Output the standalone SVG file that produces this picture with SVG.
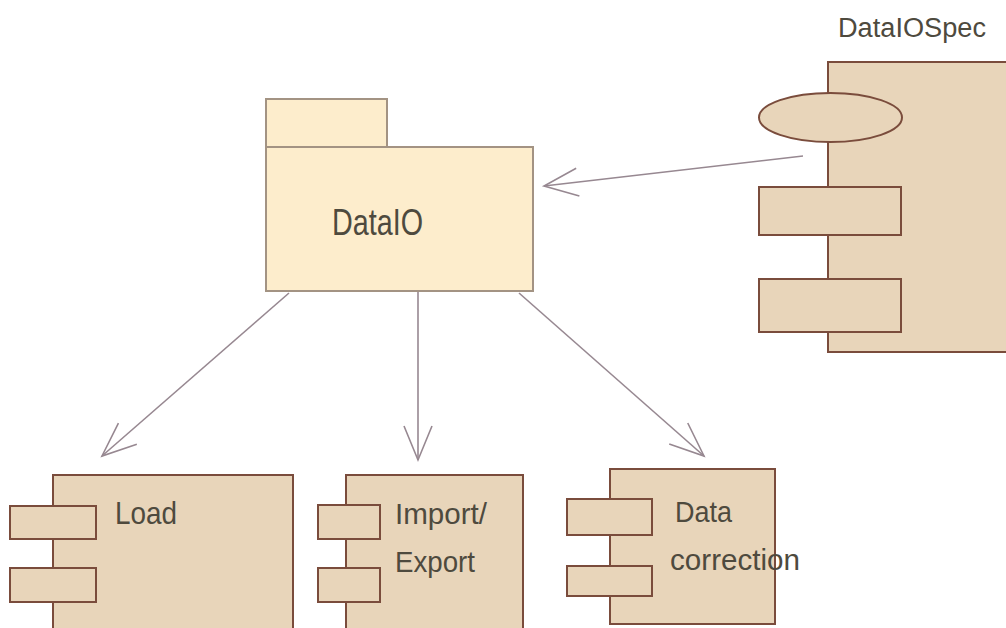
<svg xmlns="http://www.w3.org/2000/svg" width="1006" height="628" viewBox="0 0 1006 628">
<defs>
<style>
.pkg{fill:#fdedcc;stroke:#a39383;stroke-width:2}
.cmp{fill:#e8d5ba;stroke:#7a4c3c;stroke-width:2}
.lbl{font-family:"Liberation Sans",Arial,sans-serif;fill:#4e4a3e}
.conn{fill:none;stroke:#978891;stroke-width:1.6}
</style>
<marker id="open" markerUnits="userSpaceOnUse" markerWidth="50" markerHeight="50" viewBox="-45 -25 50 50" refX="0" refY="0" orient="auto">
<path d="M-34,-14 L0,0 L-34,14" fill="none" stroke="#978891" stroke-width="1.6"/>
</marker>
</defs>
<rect width="1006" height="628" fill="#ffffff"/>
<g id="connectors">
<line class="conn" x1="803" y1="156" x2="544" y2="186" marker-end="url(#open)"/>
<line class="conn" x1="289" y1="293" x2="102" y2="456" marker-end="url(#open)"/>
<line class="conn" x1="418" y1="291" x2="418" y2="460" marker-end="url(#open)"/>
<line class="conn" x1="519" y1="293" x2="704" y2="456" marker-end="url(#open)"/>
</g>
<g id="DataIO">
<rect class="pkg" x="266" y="99" width="121" height="48"/>
<rect class="pkg" x="266" y="147" width="267" height="144"/>
<text class="lbl" x="332" y="235" font-size="37" textLength="91" lengthAdjust="spacingAndGlyphs">DataIO</text>
</g>
<g id="DataIOSpec">
<text class="lbl" x="838" y="37" font-size="27" textLength="148" lengthAdjust="spacingAndGlyphs" fill="#555049">DataIOSpec</text>
<rect class="cmp" x="828" y="62" width="190" height="290"/>
<ellipse class="cmp" cx="830.5" cy="117.5" rx="71.5" ry="24.5"/>
<rect class="cmp" x="759" y="187" width="142" height="48"/>
<rect class="cmp" x="759" y="279" width="142" height="53"/>
</g>
<g id="Load">
<rect class="cmp" x="53" y="475" width="240" height="170"/>
<rect class="cmp" x="10" y="506" width="86" height="33"/>
<rect class="cmp" x="10" y="568" width="86" height="34"/>
<text class="lbl" x="115" y="524" font-size="32" textLength="62" lengthAdjust="spacingAndGlyphs">Load</text>
</g>
<g id="ImportExport">
<rect class="cmp" x="346" y="475" width="177" height="170"/>
<rect class="cmp" x="318" y="505" width="62" height="34"/>
<rect class="cmp" x="318" y="568" width="62" height="34"/>
<text class="lbl" x="395" y="524" font-size="30" textLength="92" lengthAdjust="spacingAndGlyphs">Import/</text>
<text class="lbl" x="395" y="572" font-size="30" textLength="80" lengthAdjust="spacingAndGlyphs">Export</text>
</g>
<g id="DataCorrection">
<rect class="cmp" x="610" y="469" width="165" height="155"/>
<rect class="cmp" x="567" y="499" width="85" height="36"/>
<rect class="cmp" x="567" y="566" width="85" height="30"/>
<text class="lbl" x="675" y="522" font-size="29" textLength="57" lengthAdjust="spacingAndGlyphs">Data</text>
<text class="lbl" x="670" y="570" font-size="29" textLength="130" lengthAdjust="spacingAndGlyphs">correction</text>
</g>
</svg>
